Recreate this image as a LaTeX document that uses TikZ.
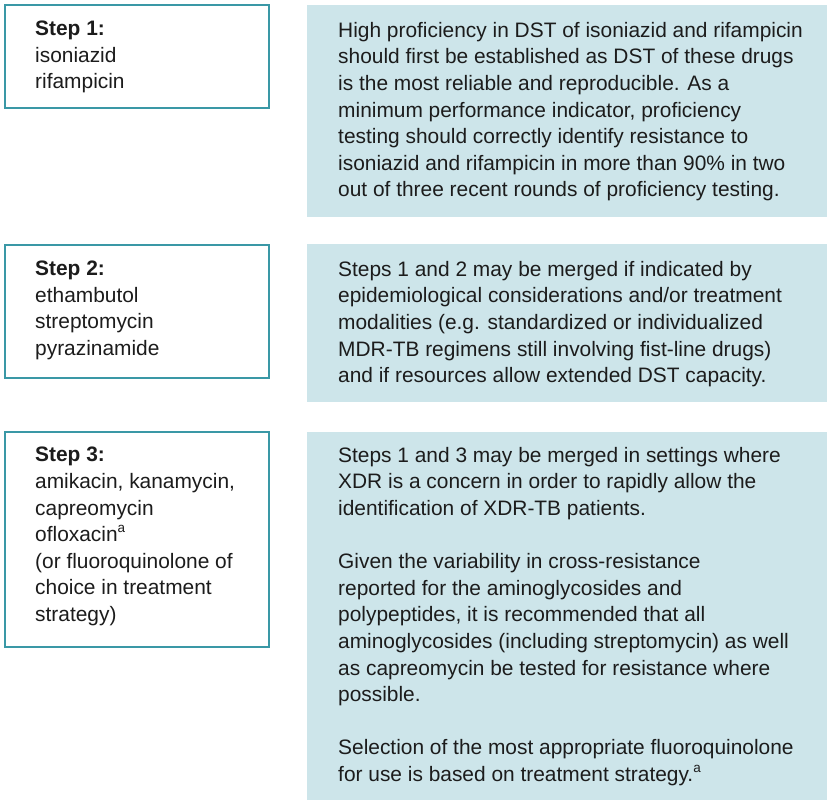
\documentclass[tikz,border=0pt]{standalone}
\usepackage{fontspec}
\setmainfont{Liberation Sans}
\definecolor{teal1}{HTML}{3A98A6}
\definecolor{pale}{HTML}{CDE5EA}
\definecolor{ink}{HTML}{1C1C1C}
\newcommand{\supa}{\raisebox{0.42em}{\fontsize{13.5}{13.5}\selectfont a}}
\begin{document}
\begin{tikzpicture}[x=1pt,y=-1pt,
  stepbox/.style={draw=teal1,line width=1.1pt,fill=white},
  notebox/.style={fill=pale,draw=none},
  txt/.style={anchor=north west,inner sep=0pt,align=left,text=ink,
    font=\fontsize{20.9}{26.6}\selectfont}]
\useasboundingbox (0,0) rectangle (827,800);
% boxes
\path[stepbox] (5,5) rectangle (269,108);
\path[notebox] (307,5) rectangle (827,217);
\path[stepbox] (5,245) rectangle (269,378);
\path[notebox] (307,244) rectangle (827,402);
\path[stepbox] (5,432) rectangle (269,647);
\path[notebox] (307,432) rectangle (827,800);
% left texts
\node[txt] (s1) at (35,21) {\textbf{Step 1:}\\isoniazid\\rifampicin};
\node[txt] (s2) at (35,261) {\textbf{Step 2:}\\ethambutol\\streptomycin\\pyrazinamide};
\node[txt] (s3) at (35,447) {\textbf{Step 3:}\\amikacin, kanamycin,\\capreomycin\\ofloxacin\supa\\(or fluoroquinolone of\\choice in treatment\\strategy)};
% right texts
\node[txt] (n1) at (338,22) {High proficiency in DST of isoniazid and rifampicin\\should first be established as DST of these drugs\\is the most reliable and reproducible. As a\\minimum performance indicator, proficiency\\testing should correctly identify resistance to\\isoniazid and rifampicin in more than 90\% in two\\out of three recent rounds of proficiency testing.};
\node[txt] (n2) at (338,261) {Steps 1 and 2 may be merged if indicated by\\epidemiological considerations and/or treatment\\modalities (e.g. standardized or individualized\\MDR-TB regimens still involving fist-line drugs)\\and if resources allow extended DST capacity.};
\node[txt] (n3) at (338,447) {Steps 1 and 3 may be merged in settings where\\XDR is a concern in order to rapidly allow the\\identification of XDR-TB patients.\\[26.6pt]Given the variability in cross-resistance\\reported for the aminoglycosides and\\polypeptides, it is recommended that all\\aminoglycosides (including streptomycin) as well\\as capreomycin be tested for resistance where\\possible.\\[26.6pt]Selection of the most appropriate fluoroquinolone\\for use is based on treatment strategy.\supa};
\end{tikzpicture}
\end{document}
